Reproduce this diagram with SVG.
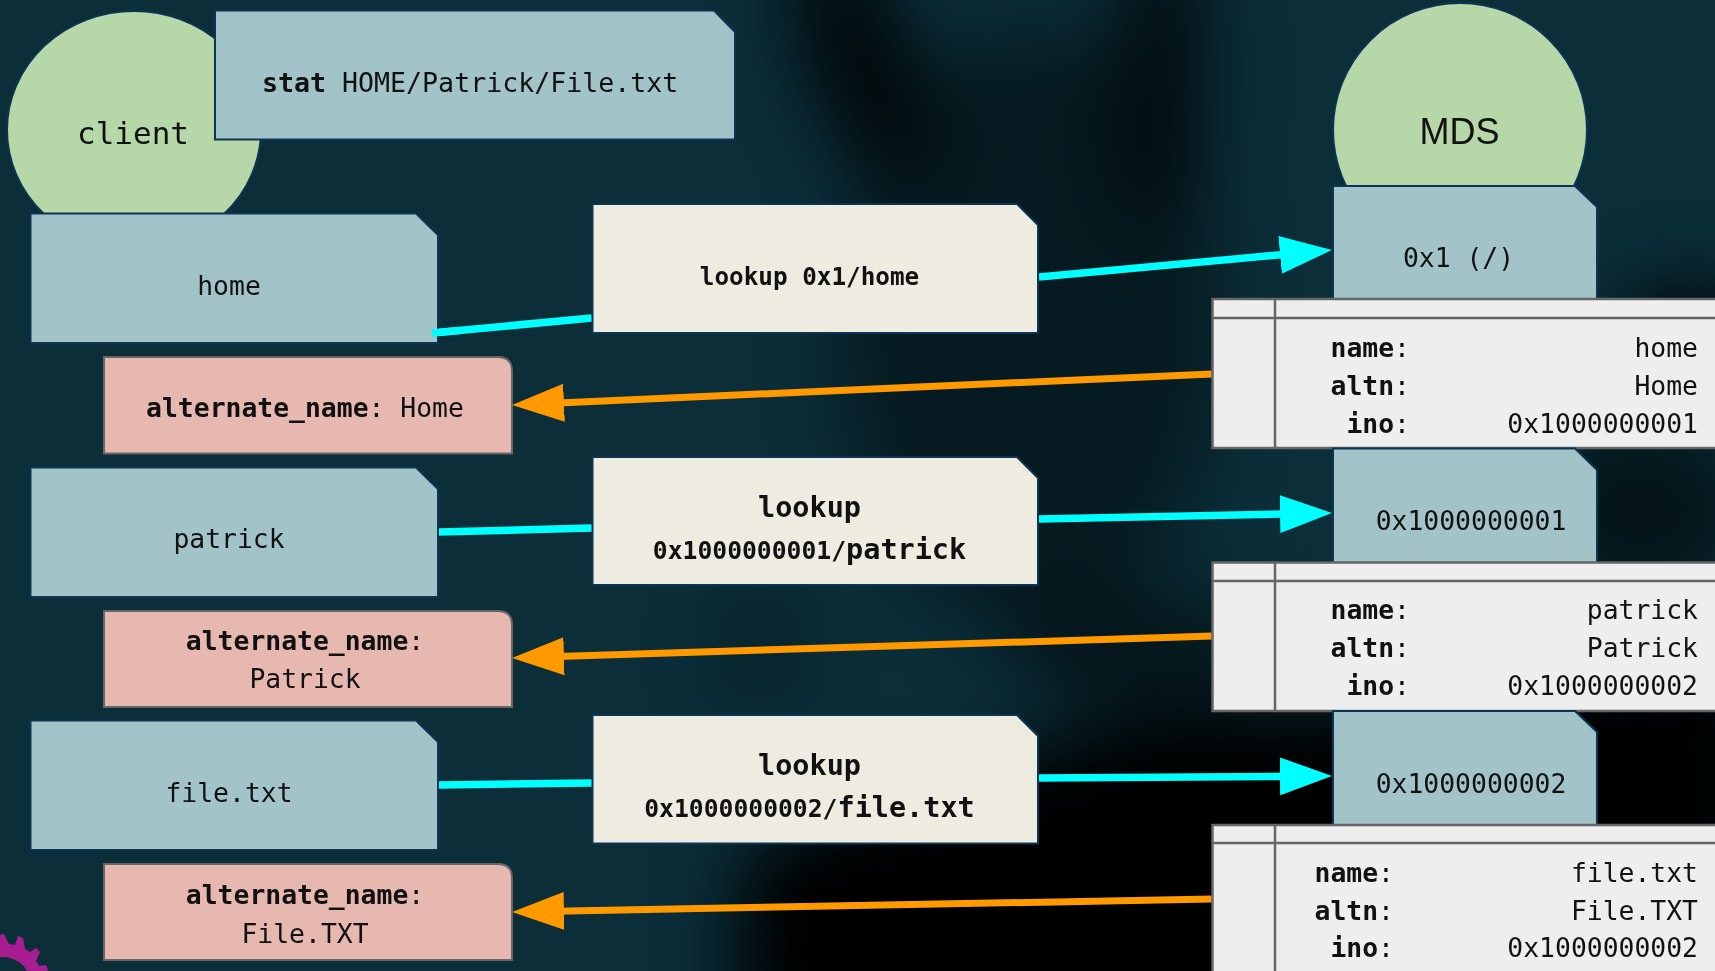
<svg xmlns="http://www.w3.org/2000/svg" width="1715" height="971" viewBox="0 0 1715 971">
<style>
text{font-family:"DejaVu Sans Mono","Liberation Mono",monospace;font-size:26.4px;fill:#111;text-anchor:middle}
.s{text-anchor:start}.e{text-anchor:end}.b{font-weight:bold}
.green{fill:#b6d7a8;stroke:#0b3553;stroke-width:2}
.blue{fill:#a2c4c9;stroke:#0b3553;stroke-width:2}
.cream{fill:#eeece1;stroke:#0b3553;stroke-width:2}
.pink{fill:#e6b8af;stroke:#666;stroke-width:2}
.tbl{fill:#eee;stroke:#666;stroke-width:2.5}
.rule{fill:none;stroke:#666;stroke-width:2.5}
.c{stroke:#0ff;stroke-width:7.5;fill:none}
.o{stroke:#f90;stroke-width:7;fill:none}
</style>
<defs>
<filter id="blur" x="-30%" y="-30%" width="160%" height="160%"><feGaussianBlur stdDeviation="38"/></filter>
<marker id="ac" markerUnits="userSpaceOnUse" markerWidth="52" markerHeight="38" refX="22" refY="19" orient="auto"><path d="M0 0L52 19L0 38Z" fill="#0ff"/></marker>
<marker id="ao" markerUnits="userSpaceOnUse" markerWidth="52" markerHeight="38" refX="22" refY="19" orient="auto"><path d="M0 0L52 19L0 38Z" fill="#f90"/></marker>
</defs>
<g id="background">
<rect width="1715" height="971" fill="#0b2e39"/>
<g filter="url(#blur)">
<ellipse cx="860" cy="60" rx="50" ry="130" transform="rotate(-20 860 60)" fill="#000" opacity=".85"/>
<ellipse cx="1160" cy="70" rx="42" ry="160" fill="#000" opacity=".75"/>
<ellipse cx="1030" cy="330" rx="190" ry="300" fill="#000" opacity=".42"/>
<ellipse cx="1690" cy="330" rx="70" ry="40" fill="#000"/>
<ellipse cx="1640" cy="510" rx="110" ry="90" fill="#000" opacity=".55"/>
<path d="M735 1040L745 850L880 800L1130 720L1400 700L1760 640L1760 1040Z" fill="#000"/>
<ellipse cx="1140" cy="650" rx="130" ry="60" fill="#000" opacity=".5"/>
<ellipse cx="760" cy="650" rx="40" ry="60" fill="#000" opacity=".3"/>
</g>
</g>
<g id="gear">
<path fill-rule="evenodd" d="M-2 935L4 934L9 944L15 945L18 936L23 938L25 949L30 952L36 948L40 952L36 961L39 966L46 965L48 970L41 977L42 985L-2 985ZM31 985A28 28 0 1 0 -25 985A28 28 0 1 0 31 985Z" fill="#a81e92"/>
</g>
<g id="client">
<ellipse class="green" cx="134" cy="130" rx="127" ry="119"/>
<text x="133" y="144" style="font-size:31px">client</text>
</g>
<g id="stat">
<path class="blue" d="M215 10.500H714L735 32V139.500H215Z"/>
<text class="s" x="262" y="92" style="font-size:26.600px"><tspan class="b">stat</tspan> HOME/Patrick/File.txt</text>
</g>
<g id="mds">
<circle class="green" cx="1460" cy="130" r="127"/>
<text x="1459.500" y="144" style="font-family:'Liberation Sans',Arial,sans-serif;font-size:36px">MDS</text>
</g>
<g id="connectors">
<path class="c" d="M432 333L592 318"/>
<path class="c" d="M1039 277L1302 252.800" marker-end="url(#ac)"/>
<path class="c" d="M438 532L592 528"/>
<path class="c" d="M1039 519L1302 513.600" marker-end="url(#ac)"/>
<path class="c" d="M438 785L592 783"/>
<path class="c" d="M1039 778L1302 776.200" marker-end="url(#ac)"/>
<path class="o" d="M1212 374L542 403.700" marker-end="url(#ao)"/>
<path class="o" d="M1212 636L542 657" marker-end="url(#ao)"/>
<path class="o" d="M1212 899L542 911.400" marker-end="url(#ao)"/>
</g>
<g id="home">
<path class="blue" d="M30.500 213.500H416L438 235V343H30.500Z"/>
<text x="229" y="295">home</text>
</g>
<path class="c" d="M432 333L460 330.400"/>
<g id="alt1">
<path class="pink" d="M104 357H498Q512 357 512 371V453.500H104Z"/>
<text x="305" y="417"><tspan class="b">alternate_name</tspan>: Home</text>
</g>
<g id="patrick">
<path class="blue" d="M30.500 467.500H416L438 489V597H30.500Z"/>
<text x="229" y="548">patrick</text>
</g>
<g id="alt2">
<path class="pink" d="M104 611H498Q512 611 512 625V707H104Z"/>
<text x="305" y="650"><tspan class="b">alternate_name</tspan>:</text>
<text x="305" y="688">Patrick</text>
</g>
<g id="file">
<path class="blue" d="M30.500 720.500H416L438 742V850H30.500Z"/>
<text x="229" y="802">file.txt</text>
</g>
<g id="alt3">
<path class="pink" d="M104 864H498Q512 864 512 878V960H104Z"/>
<text x="305" y="904"><tspan class="b">alternate_name</tspan>:</text>
<text x="305" y="943">File.TXT</text>
</g>
<g id="lookup1">
<path class="cream" d="M592.500 204H1017L1038 225V333H592.500Z"/>
<text class="b" x="809.500" y="285" style="font-size:24.300px">lookup 0x1/home</text>
</g>
<g id="lookup2">
<path class="cream" d="M592.500 457H1017L1038 478V585H592.500Z"/>
<text class="b" x="809.500" y="517" style="font-size:28.500px">lookup</text>
<text class="b" x="809.500" y="559" style="font-size:24.700px">0x1000000001/<tspan style="font-size:28.500px">patrick</tspan></text>
</g>
<g id="lookup3">
<path class="cream" d="M592.500 715H1017L1038 736V843.500H592.500Z"/>
<text class="b" x="809.500" y="775" style="font-size:28.500px">lookup</text>
<text class="b" x="809.500" y="817" style="font-size:24.700px">0x1000000002/<tspan style="font-size:28.500px">file.txt</tspan></text>
</g>
<g id="ino1">
<path class="blue" d="M1333 186H1575L1597 207V314H1333Z"/>
<text x="1458.500" y="267">0x1 (/)</text>
</g>
<g id="table1">
<rect class="tbl" x="1212.500" y="299" width="520" height="149"/>
<path class="rule" d="M1212 318H1732M1275 299V448"/>
<text class="e" x="1410" y="357"><tspan class="b">name</tspan>:</text>
<text class="e" x="1410" y="395"><tspan class="b">altn</tspan>:</text>
<text class="e" x="1410" y="433"><tspan class="b">ino</tspan>:</text>
<text class="e" x="1698" y="357">home</text>
<text class="e" x="1698" y="395">Home</text>
<text class="e" x="1698" y="433">0x1000000001</text>
</g>
<g id="ino2">
<path class="blue" d="M1333 448.500H1575L1597 470V563H1333Z"/>
<text x="1471" y="530">0x1000000001</text>
</g>
<g id="table2">
<rect class="tbl" x="1212.500" y="562.500" width="520" height="148.500"/>
<path class="rule" d="M1212 581H1732M1275 563V711"/>
<text class="e" x="1410" y="619"><tspan class="b">name</tspan>:</text>
<text class="e" x="1410" y="657"><tspan class="b">altn</tspan>:</text>
<text class="e" x="1410" y="695"><tspan class="b">ino</tspan>:</text>
<text class="e" x="1698" y="619">patrick</text>
<text class="e" x="1698" y="657">Patrick</text>
<text class="e" x="1698" y="695">0x1000000002</text>
</g>
<g id="ino3">
<path class="blue" d="M1333 711H1575L1597 732V825H1333Z"/>
<text x="1471" y="793">0x1000000002</text>
</g>
<g id="table3">
<rect class="tbl" x="1212.500" y="825" width="520" height="170"/>
<path class="rule" d="M1212 843H1732M1275 825V995"/>
<text class="e" x="1394" y="882"><tspan class="b">name</tspan>:</text>
<text class="e" x="1394" y="920"><tspan class="b">altn</tspan>:</text>
<text class="e" x="1394" y="957"><tspan class="b">ino</tspan>:</text>
<text class="e" x="1698" y="882">file.txt</text>
<text class="e" x="1698" y="920">File.TXT</text>
<text class="e" x="1698" y="957">0x1000000002</text>
</g>
</svg>
